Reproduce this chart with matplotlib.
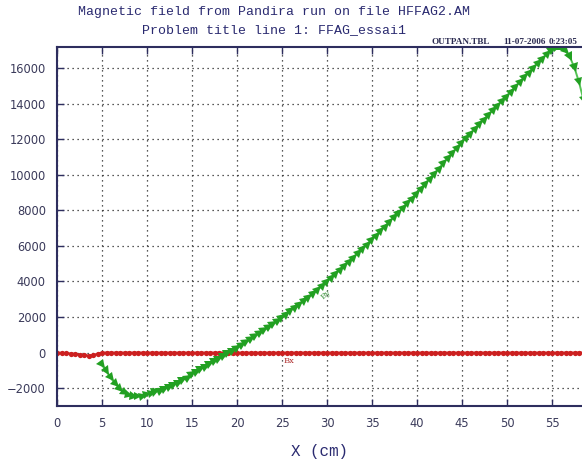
import numpy as np
import matplotlib
matplotlib.use("Agg")
import matplotlib.pyplot as plt
from matplotlib.markers import MarkerStyle
from matplotlib.transforms import Affine2D

TITLE_1 = "Magnetic field from Pandira run on file HFFAG2.AM"
TITLE_2 = "Problem title line 1: FFAG_essai1"
STAMP = ["OUTPAN.TBL", "11-07-2006", "0:23:05"]

# Bx along the line (G)
bx_x = [0.0, 0.5, 1.0, 1.5, 2.0, 2.5, 3.0, 3.5, 4.0, 4.5] + list(np.arange(5.0, 59.0, 0.5))
bx_y = [0, -10, -30, -50, -80, -110, -140, -170, -150, -60] + [0] * 108

# By along the line (G), from x = 5 cm
by_x = list(np.arange(5.0, 59.0, 0.5))
by_y = [
    -700, -1050, -1450, -1750, -2030, -2250, -2380, -2430, -2440, -2410,
    -2350, -2270, -2180, -2080, -1980, -1870, -1750, -1630, -1500, -1370,
    -1150, -1010, -870, -730, -590, -440, -290, -140, 10, 160,
    310, 470, 630, 800, 970, 1140, 1310, 1480, 1650, 1820,
    2000, 2190, 2380, 2570, 2760, 2950, 3150, 3350, 3560, 3780,
    4000, 4230, 4460, 4690, 4920, 5160, 5400, 5640, 5880, 6120,
    6360, 6620, 6880, 7140, 7400, 7660, 7920, 8180, 8450, 8720,
    9000, 9280, 9560, 9840, 10120, 10400, 10690, 10980, 11270, 11560,
    11850, 12110, 12370, 12630, 12890, 13150, 13410, 13670, 13930, 14190,
    14450, 14720, 14990, 15260, 15530, 15800, 16070, 16330, 16580, 16820,
    17050, 17180, 17150, 16950, 16600, 16000, 15200, 14200,
]

x_ticks = [0, 5, 10, 15, 20, 25, 30, 35, 40, 45, 50, 55]
y_ticks = [-2000, 0, 2000, 4000, 6000, 8000, 10000, 12000, 14000, 16000]

NAVY = "#2e2e5e"
RED = "#cc2020"
GREEN = "#22a022"

fig = plt.figure(figsize=(5.82, 4.61), dpi=100)
ax = fig.add_axes([57 / 582, 55 / 461, 1 - 57 / 582, 359 / 461])
ax.set_xlim(0, 58.33)
ax.set_ylim(-3000, 17180)

ax.set_xticks(x_ticks)
ax.set_yticks(y_ticks)
ax.grid(True, color="#222222", linestyle=(0, (1, 3)), linewidth=0.9)
ax.tick_params(direction="in", length=5, width=1, color=NAVY,
               labelsize=8.3, labelcolor="#3a3a5a", pad=8, top=True)
for side in ["left", "bottom", "top"]:
    ax.spines[side].set_color(NAVY)
    ax.spines[side].set_linewidth(1.5)
ax.spines["right"].set_visible(False)

# Bx
ax.plot(bx_x, bx_y, color=RED, linewidth=1.5, marker="o", markersize=3.8,
        markeredgewidth=0)
ax.text(25.2, -450, "Bx", color="#b03030", fontsize=6, family="DejaVu Serif",
        ha="left", va="center")

# By: line plus triangles pointing along the curve
ax.plot(by_x, by_y, color="#55c455", linewidth=1.4)
pts = ax.transData.transform(np.column_stack([by_x, by_y]))
ang = np.degrees(np.arctan2(np.gradient(pts[:, 1]), np.gradient(pts[:, 0])))
for xi, yi, a in zip(by_x, by_y, ang):
    m = MarkerStyle(">", transform=Affine2D().rotate_deg(a))
    ax.plot(xi, yi, marker=m, color=GREEN, markersize=6.2, markeredgewidth=0)
ax.text(29.9, 3300, "By", color="#4a9a4a", fontsize=6, family="DejaVu Serif",
        rotation=42, ha="center", va="center")

ax.set_xlabel("X (cm)", family="Liberation Mono", fontsize=11.4, color="#2a2a70",
              labelpad=10)

fig.text(274 / 582, 1 - 12 / 461, TITLE_1, family="Liberation Mono", fontsize=9.5,
         color="#2a2a70", ha="center", va="center")
fig.text(274 / 582, 1 - 30 / 461, TITLE_2, family="Liberation Mono", fontsize=9.5,
         color="#2a2a70", ha="center", va="center")
for xp, s in zip([431, 503, 549], STAMP):
    fig.text(xp / 582, 1 - 42 / 461, s, family="Liberation Serif", fontsize=6.6,
             color="#2a2a50", ha="left", va="center", weight="bold")

fig.savefig("out.png", dpi=100)
